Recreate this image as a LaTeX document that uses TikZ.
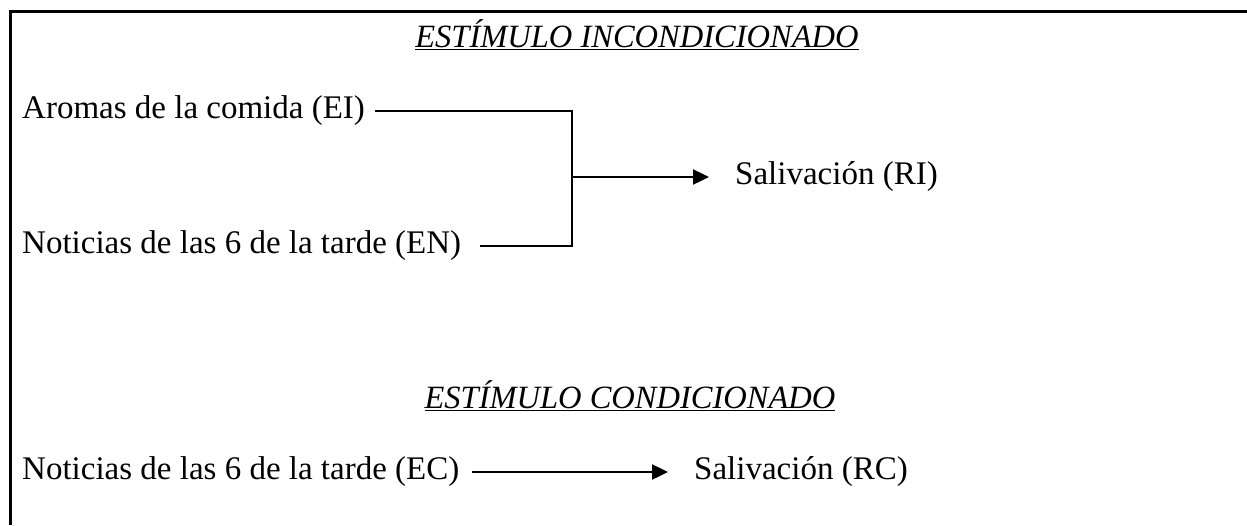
\documentclass[tikz,border=0pt]{standalone}
\usepackage{fontspec}
\setmainfont{Liberation Serif}
\usetikzlibrary{arrows.meta,positioning,calc}

\tikzset{
  texto/.style={anchor=west, inner sep=0pt, font=\fontsize{33}{39}\selectfont},
  titulo/.style={inner sep=0pt, font=\fontsize{32.5}{39}\selectfont\itshape},
  linea/.style={line width=2.4pt},
  flecha/.style={line width=2.4pt, -{Triangle[length=16pt,width=15pt]}}
}

\begin{document}
\begin{tikzpicture}[x=1pt, y=-1pt, line cap=butt, line join=miter]
        \useasboundingbox (0,0) rectangle (1247,525);
        % marco (abierto por abajo y a la derecha)
        \draw[line width=3pt] (10,525) -- (10,11) -- (1247,11);
        % estimulo incondicionado
        \node[titulo] (tit1) at (637,35) {\underline{ESTÍMULO INCONDICIONADO}};
        \node[texto] (aromas) at (22,111) {Aromas de la comida (EI)};
        \node[texto] (noticiasEN) at (22,246) {Noticias de las 6 de la tarde (EN)};
        \node[texto] (salRI) at (735,177) {Salivación (RI)};
        \coordinate (union) at (572,177);
        \draw[linea] ([xshift=10pt]aromas.east) -| (union);
        \draw[linea] ([xshift=19pt]noticiasEN.east) -| (union);
        \draw[flecha] (union) -- ([xshift=-26pt]salRI.west);
        % estimulo condicionado
        \node[titulo] (tit2) at (630,396) {\underline{ESTÍMULO CONDICIONADO}};
        \node[texto] (noticiasEC) at (22,472) {Noticias de las 6 de la tarde (EC)};
        \node[texto] (salRC) at (694,472) {Salivación (RC)};
        \draw[flecha] ([xshift=13pt]noticiasEC.east) -- ([xshift=-26pt]salRC.west);
    \end{tikzpicture}
\end{document}
